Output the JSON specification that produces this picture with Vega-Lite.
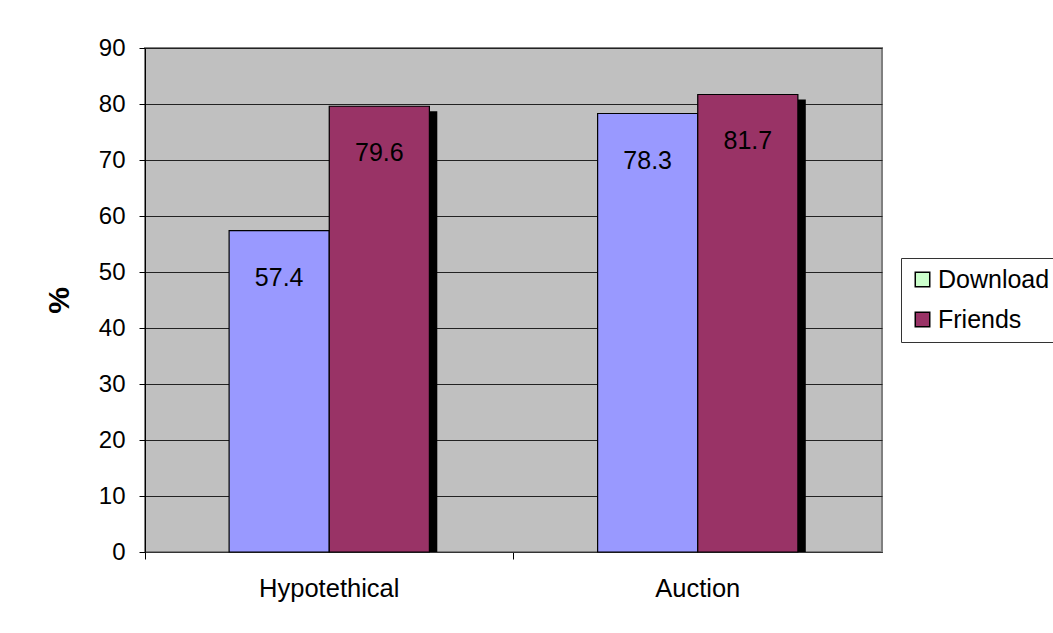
{
  "$schema": "https://vega.github.io/schema/vega-lite/v6.json",
  "autosize": "none",
  "width": 737,
  "height": 504,
  "padding": {"left": 145, "top": 48, "right": 171, "bottom": 81},
  "background": "white",
  "config": {
    "font": "Liberation Sans",
    "view": {"fill": "#C0C0C0", "stroke": "#808080", "strokeWidth": 2}
  },
  "data": {
    "values": [
      {"condition": "Hypotethical", "type": "Download", "value": 57.4},
      {"condition": "Hypotethical", "type": "Friends", "value": 79.6},
      {"condition": "Auction", "type": "Download", "value": 78.3},
      {"condition": "Auction", "type": "Friends", "value": 81.7}
    ]
  },
  "encoding": {
    "x": {
      "field": "condition", "type": "nominal",
      "sort": ["Hypotethical", "Auction"],
      "scale": {"paddingInner": 0, "paddingOuter": 0},
      "axis": {
        "title": null, "labelAngle": 0, "labelFontSize": 25.5, "labelColor": "black",
        "labelPadding": 17, "bandPosition": 0, "tickColor": "black", "tickSize": 7,
        "domainColor": "#333333", "grid": false
      }
    },
    "y": {
      "field": "value", "type": "quantitative",
      "scale": {"domain": [0, 90], "nice": false},
      "axis": {
        "title": "%", "titleFontSize": 30, "titleFontWeight": "bold", "titleColor": "black",
        "titlePadding": 24,
        "values": [0, 10, 20, 30, 40, 50, 60, 70, 80, 90],
        "labelFontSize": 24, "labelColor": "black", "labelPadding": 14,
        "tickColor": "black", "tickSize": 6, "domainColor": "black",
        "grid": true, "gridColor": "#222222", "gridWidth": 1
      }
    }
  },
  "resolve": {"scale": {"xOffset": "independent"}},
  "layer": [
    {
      "mark": {"type": "bar"},
      "encoding": {
        "xOffset": {
          "field": "type", "type": "nominal",
          "sort": ["Download", "Friends"],
          "scale": {"paddingInner": 0, "paddingOuter": 0.84}
        },
        "fill": {
          "field": "type", "type": "nominal",
          "sort": ["Download", "Friends"],
          "scale": {"domain": ["Download", "Friends"], "range": ["#CCFFCC", "#993366"]},
          "legend": {
            "title": null, "orient": "none", "legendX": 756, "legendY": 210,
            "strokeColor": "#333333", "fillColor": "white", "padding": 9,
            "labelFontSize": 25, "labelColor": "black", "labelFont": "Liberation Sans",
            "symbolType": "square", "symbolSize": 210, "symbolStrokeColor": "black",
            "symbolStrokeWidth": 1.5, "rowPadding": 14, "labelOffset": 3
          }
        }
      }
    },
    {
      "mark": {"type": "bar", "fill": "black", "yOffset": 5, "clip": true},
      "encoding": {
        "xOffset": {
          "field": "type", "type": "nominal",
          "sort": ["Download", "Friends"],
          "scale": {"paddingInner": 0, "paddingOuter": 0.84, "align": 0.547}
        }
      }
    },
    {
      "mark": {"type": "bar", "stroke": "black", "strokeWidth": 1.2},
      "encoding": {
        "xOffset": {
          "field": "type", "type": "nominal",
          "sort": ["Download", "Friends"],
          "scale": {"paddingInner": 0, "paddingOuter": 0.84}
        },
        "color": {
          "field": "type", "type": "nominal",
          "scale": {"domain": ["Download", "Friends"], "range": ["#9999FF", "#993366"]},
          "legend": null
        }
      }
    },
    {
      "mark": {"type": "text", "dy": 47, "fontSize": 25, "color": "black", "font": "Liberation Sans"},
      "encoding": {
        "xOffset": {
          "field": "type", "type": "nominal",
          "sort": ["Download", "Friends"],
          "scale": {"type": "band", "paddingInner": 0, "paddingOuter": 0.84}
        },
        "text": {"field": "value", "type": "quantitative", "format": ".1f"}
      }
    }
  ]
}
